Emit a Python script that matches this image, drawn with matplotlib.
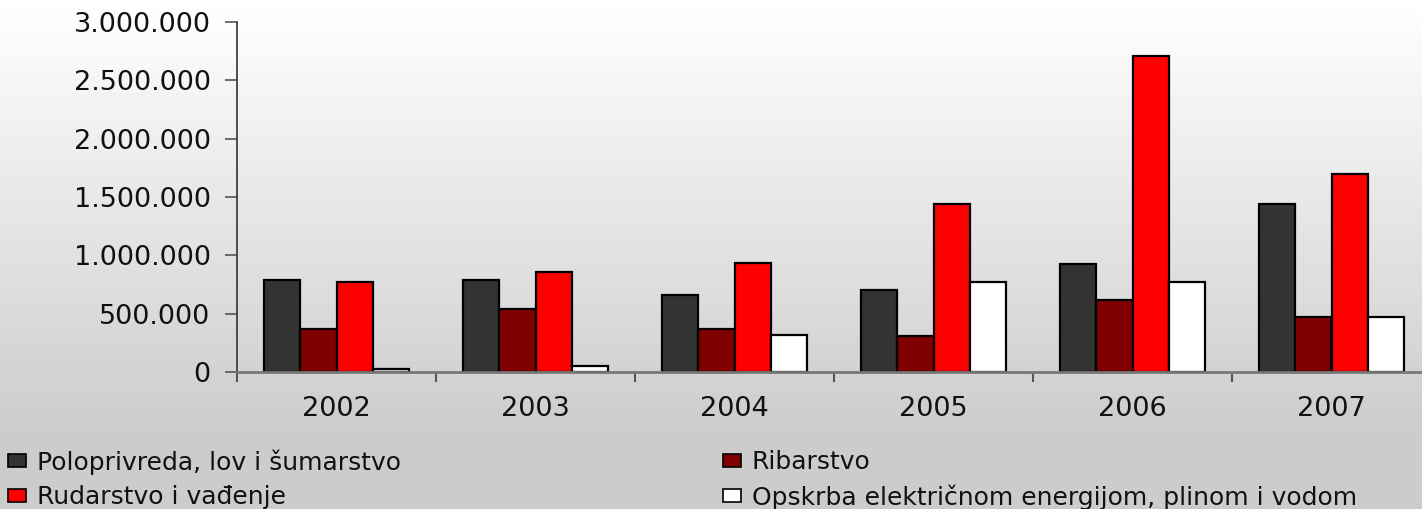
import numpy as np
import matplotlib
matplotlib.use("Agg")
import matplotlib.pyplot as plt
from matplotlib.ticker import FuncFormatter, FixedLocator

years = ["2002", "2003", "2004", "2005", "2006", "2007"]
poljoprivreda = [790000, 790000, 660000, 700000, 930000, 1440000]
ribarstvo = [370000, 540000, 370000, 310000, 620000, 470000]
rudarstvo = [775000, 860000, 935000, 1440000, 2710000, 1700000]
opskrba = [25000, 55000, 320000, 770000, 770000, 470000]

series = [
    ("Poloprivreda, lov i šumarstvo", poljoprivreda, "#333333"),
    ("Ribarstvo", ribarstvo, "#800000"),
    ("Rudarstvo i vađenje", rudarstvo, "#ff0000"),
    ("Opskrba električnom energijom, plinom i vodom", opskrba, "#ffffff"),
]

W, H = 1422, 509
fig = plt.figure(figsize=(W / 100, H / 100), dpi=100)

# background gradient (white at top -> light gray), flat gray under the legend
bg = fig.add_axes([0, 0, 1, 1], zorder=-10)
rows = np.arange(H)
shade = np.clip(1.0 - 0.2 * rows / 430.0, 0.8, 1.0)
bg.imshow(np.repeat(shade[:, None], 4, axis=1), cmap="gray", vmin=0, vmax=1,
          aspect="auto", interpolation="nearest", extent=[0, 1, 0, 1],
          origin="upper")
bg.set_axis_off()

x0, x1 = 237, 1431
y0, y1 = 372.3, 21.7
ax = fig.add_axes([x0 / W, 1 - y0 / H, (x1 - x0) / W, (y0 - y1) / H])
ax.patch.set_alpha(0)

x = np.arange(len(years))
width = 0.1834
handles = []
for i, (name, vals, col) in enumerate(series):
    b = ax.bar(x + (i - 1.5) * width, vals, width, color=col,
               edgecolor="black", linewidth=1.6, label=name, zorder=3)
    handles.append(b)

ax.set_xlim(-0.5, len(years) - 0.5)
ax.set_ylim(0, 3000000)
ax.set_yticks(np.arange(0, 3000001, 500000))
ax.yaxis.set_major_formatter(FuncFormatter(lambda v, p: f"{int(v):,}".replace(",", ".")))
ax.set_xticks(x)
ax.set_xticklabels(years)
ax.xaxis.set_minor_locator(FixedLocator(np.arange(-0.5, len(years), 1.0)))

for side in ("top", "right"):
    ax.spines[side].set_visible(False)
ax.spines["left"].set_color("#333333")
ax.spines["left"].set_linewidth(1.2)
ax.spines["bottom"].set_color("#777777")
ax.spines["bottom"].set_linewidth(2)
ax.spines["bottom"].set_zorder(4)

ax.tick_params(axis="y", length=9, width=1.2, color="#555555", pad=10,
               labelsize=19.5, labelcolor="#111111")
ax.tick_params(axis="x", which="major", length=0, pad=17, labelsize=19.5,
               labelcolor="#111111")
ax.tick_params(axis="x", which="minor", length=7, width=1.5, color="#555555")
for lbl in ax.get_yticklabels() + ax.get_xticklabels():
    lbl.set_fontfamily("DejaVu Sans")

# legend: one entry per legend so the two columns line up exactly
leg_pos = [(8, 462), (723, 462), (8, 497), (723, 497)]
for (name, _, _), h, (lx, ly) in zip(series, handles, leg_pos):
    leg = fig.legend([h], [name], loc="center left",
                     bbox_to_anchor=(lx / W, 1 - ly / H),
                     frameon=False, handlelength=0.7, handleheight=0.43,
                     handletextpad=0.45, borderaxespad=0, borderpad=0,
                     prop={"family": "DejaVu Sans", "size": 18})
    for p in leg.get_patches():
        p.set_linewidth(1.2)
    for t in leg.get_texts():
        t.set_color("#111111")

fig.savefig("out.png", dpi=100)
